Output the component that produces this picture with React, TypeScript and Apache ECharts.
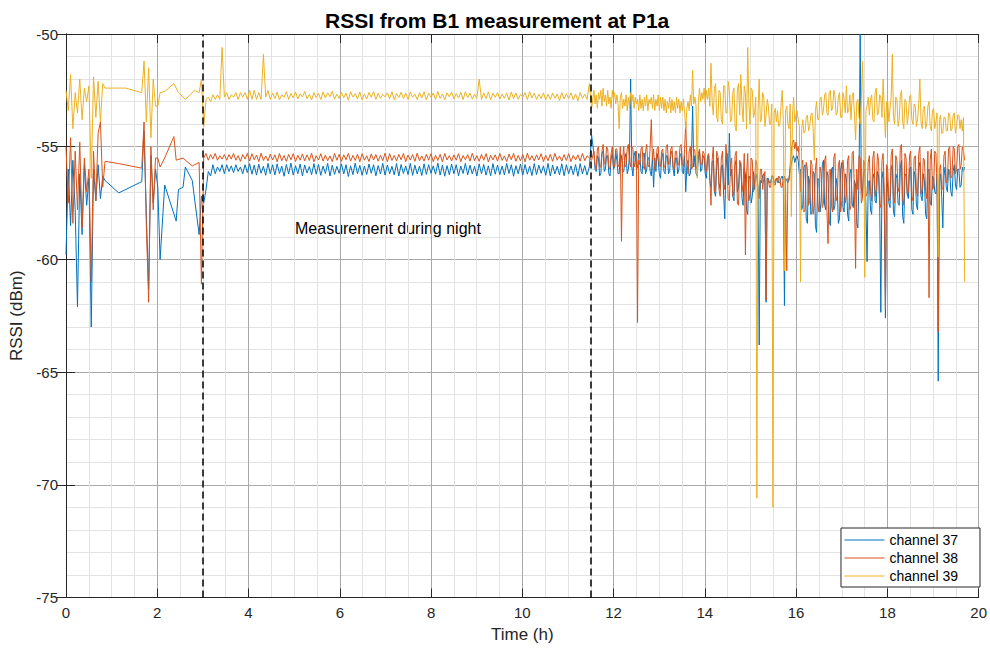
import React, { useEffect, useRef } from "react";
import * as echarts from "echarts";

// Logger sample periods (h): slower logging until 11.5 h, faster afterwards
const EARLY_PERIOD_H = 0.0503;
const LATE_PERIOD_H = 0.02515;
const LATE_START_H = 11.569;

const SERIES_NAMES = ["channel 37", "channel 38", "channel 39"];
const SERIES_COLORS = ["#0072BD", "#D95319", "#EDB120"];
const NIGHT_BOUNDS = [3, 11.5];
const NIGHT_LABEL = "Measurement during night";
const X_TICKS = [0, 2, 4, 6, 8, 10, 12, 14, 16, 18, 20];
const Y_TICKS = [-75, -70, -65, -60, -55, -50];

// ---------- channel 37 (dBm), null = no sample ----------
const CH37_EARLY: (number | null)[] = [
  -59.8, -56.0, -58.5, -55.6, -57.8, -62.1, -56.2, -58.9, -55.8, -57.6,
  -56.4, -63.0, -56.0, -57.4, -55.8, -57.3, -56.3, -56.5, null, null,
  null, null, null, -57.05, null, null, null, null, null, null,
  null, null, null, -56.55, -54.3, -58.0, -61.3, -55.4, -57.5, -56.0,
  -56.8, -60.0, null, -56.7, null, null, null, null, -58.3, -56.9,
  null, -56.8, -55.9, null, null, -56.5, null, null, -58.9, -57.2,
  -57.5, -56.9, -56.1, -56.3, -55.8, -56.2, -55.9, -56.1, -55.8, -56.2,
  -55.8, -56.1, -55.85, -56.15, -55.8, -56.1, -55.9, -56.2, -55.8, -56.15,
  -55.75, -56.22, -55.82, -56.26, -55.78, -56.18, -55.87, -56.27, -55.74, -56.2,
  -55.8, -56.25, -55.76, -56.19, -55.86, -56.31, -55.79, -56.21, -55.73, -56.26,
  -55.84, -56.2, -55.77, -56.29, -55.81, -56.17, -55.88, -56.24, -55.75, -56.22,
  -55.79, -56.27, -55.86, -56.19, -55.74, -56.3, -55.82, -56.23, -55.87, -56.18,
  -55.76, -56.21, -55.8, -56.32, -55.85, -56.24, -55.73, -56.2, -55.83, -56.27,
  -55.86, -56.23, -55.77, -56.18, -55.8, -56.29, -55.84, -56.21, -55.74, -56.26,
  -55.81, -56.2, -55.87, -56.25, -55.75, -56.3, -55.79, -56.19, -55.85, -56.24,
  -55.74, -56.27, -55.82, -56.21, -55.86, -56.28, -55.76, -56.23, -55.8, -56.18,
  -55.85, -56.22, -55.73, -56.26, -55.81, -56.31, -55.84, -56.24, -55.77, -56.2,
  -55.8, -56.29, -55.86, -56.19, -55.74, -56.25, -55.82, -56.21, -55.87, -56.3,
  -55.76, -56.2, -55.79, -56.26, -55.85, -56.29, -55.75, -56.22, -55.81, -56.24,
  -55.86, -56.25, -55.74, -56.19, -55.8, -56.31, -55.84, -56.2, -55.77, -56.26,
  -55.79, -56.22, -55.86, -56.28, -55.75, -56.24, -55.82, -56.18, -55.85, -56.27,
  -55.74, -56.3, -55.81, -56.21, -55.87, -56.25, -55.76, -56.29, -55.8, -56.2,
  -55.85, -56.24, -55.79, -56.31, -55.75, -56.2, -55.84, -56.26, -55.9, -54.5,
];
const CH37_LATE: (number | null)[] = [
  -55.3, -56.0, -56.1, -55.4, -55.5, -56.3, -56.2, -55.3, -55.2, -56.1, -56.0, -55.4, -55.4, -56.2, -56.3, -55.5, -55.3, -56.0, -55.9, -55.2,
  -55.6, -56.2, -56.2, -55.3, -55.4, -56.1, -56.1, -55.5, -55.3, -56.2, -56.0, -55.4, -52.0, -55.9, -56.3, -55.4, -55.2, -56.0, -55.9, -55.3,
  -55.4, -56.1, -56.2, -55.3, -55.3, -56.2, -56.0, -55.5, -55.5, -56.1, -56.3, -55.4, -56.8, -55.5, -56.1, -55.3, -55.6, -56.2, -56.4, -55.5,
  -55.3, -56.1, -56.2, -55.4, -55.4, -56.2, -56.1, -55.3, -55.2, -56.0, -56.3, -55.5, -55.5, -56.2, -56.0, -55.4, -55.3, -56.1, -56.2, -55.4,
  -57.0, -55.8, -55.6, -56.3, -56.2, -55.5, -53.2, -55.9, -55.4, -56.2, -56.3, -55.5, -55.2, -56.1, -56.0, -55.4, -55.5, -56.2, -56.4, -55.6,
  -55.4, -56.5, -56.8, -55.7, -55.6, -57.0, -57.2, -55.8, -55.5, -56.6, -56.9, -55.9, -55.8, -57.1, -58.2, -56.0, -55.3, -56.7, -54.4, -56.3,
  -56.0, -57.2, -57.4, -55.8, -55.6, -57.0, -56.8, -55.9, -55.7, -57.3, -57.6, -56.0, -56.2, -57.8, -58.0, -56.3, -56.4, -57.5, -57.2, -56.1,
  -56.9, -56.2, -56.4, -56.8, -63.8, -56.5, -56.6, -56.3, -56.2, -56.6, -61.9, -56.4, -56.4, -56.6, -56.6, -56.3, -56.3, -56.6, -56.5, -56.4,
  -56.4, -56.6, -56.6, -56.4, -56.3, -56.5, -62.05, -56.4, -56.5, -56.6, -56.4, -56.0, -55.8, -55.5, -55.4, -55.7, -55.5, -55.4, -55.6, -56.2,
  -56.0, -57.8, -57.6, -55.9, -55.8, -58.2, -58.4, -56.3, -56.6, -58.0, -57.9, -56.1, -56.2, -58.5, -58.8, -56.4, -56.5, -57.9, -57.4, -55.8,
  -55.6, -57.6, -57.8, -56.1, -56.3, -58.3, -58.5, -56.0, -55.9, -57.8, -57.6, -56.4, -56.8, -58.4, -58.2, -56.0, -55.7, -57.7, -57.9, -56.2,
  -56.4, -58.0, -58.3, -56.2, -56.0, -57.5, -57.7, -56.5, -56.7, -58.4, -58.6, -56.3, -50.0, -56.8, -57.2, -56.1, -56.0, -57.6, -60.1, -56.6,
  -56.5, -57.8, -58.0, -56.4, -56.2, -57.4, -57.5, -56.1, -56.3, -57.6, -62.35, -56.4, -56.1, -57.7, -62.6, -56.3, -56.8, -57.5, -57.7, -56.0,
  -55.8, -57.9, -58.1, -56.2, -56.4, -57.5, -57.6, -55.9, -55.6, -58.1, -58.4, -56.3, -56.2, -57.1, -57.3, -56.0, -55.9, -57.8, -58.0, -56.1,
  -56.3, -57.6, -57.8, -55.9, -55.7, -57.2, -57.4, -56.2, -56.5, -58.0, -58.2, -56.1, -56.0, -57.5, -57.6, -56.3, -56.4, -57.0, -57.1, -56.2,
  -65.4, -56.4, -56.2, -57.2, -58.6, -56.3, -55.9, -56.8, -57.0, -56.0, -56.1, -57.0, -57.2, -56.1, -55.8, -56.7, -56.9, -56.0, -56.0, -56.8,
  -56.7, -55.9, -56.1, -55.9,
];

// ---------- channel 38 (dBm) ----------
const CH38_EARLY: (number | null)[] = [
  -55.0, -57.5, -54.6, -58.4, -55.2, -57.8, -54.8, -58.6, -55.5, -57.0,
  -56.0, -61.0, -55.2, -57.4, -54.4, -53.9, -56.8, -55.65, null, null,
  null, null, null, -55.75, null, null, null, null, null, null,
  null, null, null, -55.95, -53.9, -58.5, -61.9, -55.0, -57.8, -55.5,
  -55.5, -55.9, null, -55.5, null, null, null, -54.55, -55.6, null,
  null, -55.5, -55.6, null, null, -55.85, null, null, -55.7, -61.1,
  -55.5, -55.3, -55.6, -55.35, -55.55, -55.3, -55.6, -55.4, -55.55, -55.35,
  -55.6, -55.35, -55.55, -55.3, -55.6, -55.4, -55.65, -55.35, -55.55, -55.3,
  -55.64, -55.31, -55.58, -55.37, -55.66, -55.29, -55.61, -55.41, -55.63, -55.33,
  -55.59, -55.36, -55.67, -55.3, -55.62, -55.39, -55.65, -55.34, -55.58, -55.31,
  -55.66, -55.38, -55.6, -55.32, -55.63, -55.36, -55.61, -55.29, -55.67, -55.4,
  -55.59, -55.31, -55.64, -55.37, -55.62, -55.41, -55.66, -55.3, -55.6, -55.34,
  -55.65, -55.36, -55.58, -55.3, -55.64, -55.39, -55.61, -55.33, -55.67, -55.31,
  -55.6, -55.4, -55.66, -55.32, -55.59, -55.35, -55.64, -55.38, -55.62, -55.29,
  -55.67, -55.31, -55.61, -55.39, -55.63, -55.34, -55.58, -55.3, -55.66, -55.37,
  -55.59, -55.35, -55.65, -55.29, -55.62, -55.41, -55.64, -55.33, -55.6, -55.31,
  -55.66, -55.38, -55.61, -55.34, -55.67, -55.3, -55.59, -55.4, -55.63, -55.36,
  -55.6, -55.31, -55.66, -55.39, -55.58, -55.35, -55.64, -55.29, -55.62, -55.4,
  -55.65, -55.34, -55.6, -55.31, -55.67, -55.38, -55.59, -55.36, -55.64, -55.3,
  -55.61, -55.41, -55.66, -55.33, -55.58, -55.3, -55.65, -55.39, -55.62, -55.35,
  -55.67, -55.29, -55.6, -55.4, -55.63, -55.36, -55.59, -55.31, -55.66, -55.38,
  -55.62, -55.34, -55.65, -55.3, -55.6, -55.41, -55.64, -55.35, -55.61, -55.31,
  -55.66, -55.39, -55.59, -55.36, -55.64, -55.3, -55.62, -55.4, -55.5, -55.6,
];
const CH38_LATE: (number | null)[] = [
  -55.2, -55.8, -56.0, -55.1, -55.0, -55.9, -55.9, -55.2, -54.9, -55.7, -55.8, -55.0, -55.1, -55.9, -56.0, -55.3, -55.0, -55.8, -55.9, -55.1,
  -55.1, -55.8, -55.9, -55.0, -59.2, -55.6, -55.0, -55.9, -55.8, -55.1, -54.9, -55.7, -55.9, -55.0, -55.1, -55.9, -55.7, -55.2, -62.8, -55.6,
  -55.8, -55.1, -55.0, -55.9, -56.0, -55.2, -54.9, -55.8, -55.9, -55.0, -53.8, -55.6, -55.1, -56.0, -55.8, -55.1, -55.0, -55.8, -55.9, -55.2,
  -55.1, -55.9, -55.9, -55.0, -54.9, -55.8, -55.7, -55.1, -55.0, -55.9, -56.0, -55.2, -55.2, -55.8, -55.8, -55.0, -54.9, -55.7, -55.9, -55.1,
  -53.9, -55.7, -56.2, -55.2, -55.0, -56.0, -55.9, -55.1, -55.2, -55.9, -56.0, -55.3, -55.1, -55.8, -55.8, -55.2, -55.3, -56.0, -56.1, -55.4,
  -55.3, -56.4, -57.6, -55.6, -55.0, -57.0, -56.8, -55.2, -55.4, -56.9, -57.2, -55.5, -55.2, -56.6, -56.9, -54.9, -55.6, -57.3, -57.4, -55.8,
  -55.5, -57.2, -57.0, -55.4, -55.2, -57.5, -57.6, -55.6, -55.8, -57.0, -56.6, -55.3, -59.8, -56.2, -55.3, -57.4, -57.1, -55.5, -55.6, -57.0,
  -56.6, -55.6, -55.8, -57.2, -57.3, -56.0, -56.0, -56.9, -56.4, -56.1, -61.8, -56.4, -56.5, -56.8, -56.8, -56.3, -56.3, -56.7, -56.7, -56.4,
  -56.6, -56.3, -56.4, -56.8, -56.8, -56.4, -56.3, -56.7, -60.5, -56.4, -56.5, -55.8, -55.2, -54.8, -54.7, -55.1, -54.8, -55.2, -55.0, -55.6,
  -57.0, -55.8, -55.6, -57.9, -57.8, -55.7, -56.0, -57.6, -57.4, -55.6, -55.8, -58.0, -57.6, -56.0, -55.5, -57.5, -57.9, -55.9, -56.2, -57.7,
  -57.5, -55.6, -55.4, -57.8, -59.3, -56.1, -56.0, -57.6, -57.9, -55.5, -55.3, -57.4, -57.2, -55.8, -55.6, -57.9, -57.4, -55.6, -56.2, -57.5,
  -57.2, -55.6, -55.4, -57.8, -57.6, -55.3, -55.2, -57.1, -60.4, -56.0, -56.9, -55.4, -55.5, -57.5, -57.3, -55.6, -55.8, -57.2, -57.1, -55.7,
  -55.4, -57.0, -57.4, -55.5, -55.2, -57.2, -56.9, -55.3, -55.6, -57.5, -57.7, -55.6, -55.3, -57.0, -62.2, -55.8, -56.0, -57.4, -57.3, -55.4,
  -55.1, -57.2, -57.5, -55.4, -55.6, -57.0, -56.8, -55.0, -54.9, -57.3, -57.6, -55.3, -55.5, -57.1, -57.0, -55.4, -55.2, -57.2, -57.4, -55.5,
  -55.4, -57.0, -57.2, -55.3, -55.0, -57.1, -56.9, -55.5, -55.6, -57.0, -57.3, -55.2, -61.7, -55.6, -55.1, -56.9, -56.8, -55.2, -55.3, -56.7,
  -63.2, -56.0, -55.8, -56.8, -56.9, -55.4, -55.2, -56.6, -56.5, -55.1, -55.0, -56.4, -56.3, -55.0, -55.1, -56.2, -56.0, -55.0, -54.9, -56.0,
  -55.8, -55.0, -55.2, -55.6,
];

// ---------- channel 39 (dBm) ----------
const CH39_EARLY: (number | null)[] = [
  -52.5, -53.4, -51.8, -54.2, -52.6, -53.5, -52.0, -53.8, -52.4, -53.0,
  -52.3, -56.4, -51.9, -53.7, -52.1, -53.9, -52.2, -52.4, null, null,
  null, null, null, -52.4, null, null, -52.4, null, null, null,
  null, null, null, -52.6, -51.2, -53.9, -51.5, -54.6, -52.0, -53.2,
  -53.2, -52.6, null, -52.55, null, null, null, -52.2, null, -52.6,
  null, null, -52.9, null, null, null, -52.5, null, -52.6, -52.0,
  -54.1, -52.9, -52.8, -53.0, -52.7, -52.9, -52.7, -52.9, -50.6, -52.8,
  -52.6, -52.9, -52.7, -52.8, -52.6, -52.9, -52.6, -52.8, -52.6, -52.9,
  -52.5, -52.9, -52.5, -52.9, -52.6, -52.9, -50.9, -52.8, -52.5, -52.9,
  -52.62, -52.86, -52.58, -52.92, -52.7, -52.81, -52.56, -52.9, -52.64, -52.84,
  -52.57, -52.88, -52.66, -52.79, -52.55, -52.87, -52.68, -52.93, -52.6, -52.82,
  -52.63, -52.91, -52.57, -52.84, -52.61, -52.78, -52.54, -52.89, -52.67, -52.86,
  -52.58, -52.83, -52.62, -52.94, -52.56, -52.8, -52.65, -52.88, -52.57, -52.92,
  -52.66, -52.89, -52.59, -52.81, -52.55, -52.9, -52.63, -52.85, -52.68, -52.79,
  -52.61, -52.87, -52.56, -52.92, -52.64, -52.82, -52.58, -52.86, -52.62, -52.9,
  -52.57, -52.8, -52.67, -52.91, -52.6, -52.84, -52.56, -52.93, -52.63, -52.81,
  -52.62, -52.9, -52.55, -52.86, -52.66, -52.92, -52.61, -52.79, -52.57, -52.88,
  -52.64, -52.84, -52.59, -52.91, -52.56, -52.82, -52.62, -52.89, -52.67, -52.85,
  -52.0, -52.9, -52.61, -52.86, -52.57, -52.92, -52.63, -52.81, -52.6, -52.88,
  -52.66, -52.85, -52.61, -52.93, -52.57, -52.87, -52.62, -52.9, -52.68, -52.8,
  -52.6, -52.91, -52.56, -52.84, -52.63, -52.9, -52.67, -52.86, -52.61, -52.92,
  -52.67, -52.9, -52.62, -52.85, -52.66, -52.95, -52.6, -52.88, -52.65, -52.86,
  -52.61, -52.92, -52.66, -52.96, -52.6, -52.85, -52.67, -52.9, -52.2, -53.3,
];
const CH39_LATE: (number | null)[] = [
  -52.5, -53.1, -52.7, -53.3, -52.6, -52.9, -52.5, -53.2, -52.4, -53.0, -52.7, -53.2, -52.5, -53.1, -52.8, -53.3, -52.5, -52.9, -52.6, -53.1,
  -52.7, -53.1, -54.2, -52.8, -52.6, -53.3, -52.9, -53.2, -52.7, -53.4, -52.8, -53.3, -52.6, -53.0, -52.7, -53.3, -52.8, -53.1, -52.9, -53.4,
  -52.7, -53.3, -52.9, -53.4, -52.8, -53.2, -52.7, -53.4, -52.9, -53.1, -52.8, -53.3, -52.7, -53.4, -52.9, -53.2, -52.7, -53.4, -52.8, -53.3,
  -52.8, -53.4, -52.9, -53.5, -53.0, -53.3, -52.8, -53.5, -52.9, -53.4, -53.0, -53.5, -52.8, -53.3, -52.9, -53.5, -53.0, -53.4, -52.9, -53.5,
  -54.2, -53.3, -53.0, -53.4, -52.7, -53.2, -51.6, -53.1, -52.8, -53.2, -56.4, -53.0, -52.4, -53.0, -52.6, -52.9, -52.4, -53.1, -52.5, -52.9,
  -52.4, -53.2, -51.3, -53.0, -53.6, -52.4, -52.2, -53.7, -53.9, -52.5, -52.6, -53.8, -54.0, -52.3, -52.3, -53.5, -53.5, -52.1, -52.5, -53.9,
  -53.8, -52.6, -52.4, -54.1, -54.3, -52.5, -52.2, -53.6, -51.8, -53.2, -53.9, -52.3, -52.6, -54.2, -50.6, -53.1, -54.0, -52.4, -52.5, -53.7,
  -53.5, -52.8, -70.6, -53.4, -52.0, -53.9, -53.8, -52.6, -52.8, -54.1, -53.6, -52.9, -53.2, -54.0, -54.0, -53.1, -71.0, -53.5, -53.3, -53.9,
  -53.4, -54.1, -54.0, -53.2, -52.5, -53.8, -60.5, -53.4, -53.2, -54.0, -54.2, -53.1, -58.1, -53.6, -52.8, -53.9, -53.6, -53.4, -53.8, -54.1,
  -61.0, -54.2, -53.8, -54.4, -54.3, -53.7, -53.6, -54.3, -54.1, -53.6, -53.5, -54.2, -55.6, -53.4, -53.0, -53.8, -53.8, -52.9, -52.8, -53.6,
  -53.4, -52.7, -52.6, -53.5, -53.6, -52.6, -52.5, -53.4, -53.3, -52.5, -52.7, -53.6, -53.5, -52.8, -52.6, -53.7, -53.7, -52.6, -52.9, -53.5,
  -52.3, -53.5, -53.4, -52.7, -53.8, -52.8, -52.6, -53.6, -54.7, -53.0, -52.9, -53.7, -54.0, -52.9, -51.2, -53.5, -60.8, -53.4, -53.2, -52.8,
  -53.6, -52.9, -52.7, -53.8, -53.9, -52.6, -52.4, -53.6, -53.5, -52.7, -52.8, -53.7, -52.0, -53.4, -54.6, -53.0, -53.0, -53.9, -53.3, -52.8,
  -50.9, -53.7, -54.0, -52.8, -52.9, -54.1, -53.8, -52.7, -52.5, -53.9, -54.2, -52.9, -53.0, -54.0, -53.6, -52.8, -52.7, -53.8, -54.0, -53.1,
  -53.2, -54.1, -53.8, -53.1, -52.0, -53.9, -54.2, -53.3, -53.2, -54.2, -54.0, -53.2, -53.0, -54.1, -54.3, -53.4, -53.3, -54.2, -53.9, -53.5,
  -59.9, -53.8, -53.6, -54.4, -54.4, -53.7, -53.7, -54.3, -54.3, -53.5, -53.6, -54.3, -54.2, -53.6, -53.5, -54.4, -54.1, -53.6, -53.6, -54.2,
  -53.8, -54.3, -53.7, -61.0,
];

const SERIES_SEGMENTS = [
  [CH37_EARLY, CH37_LATE],
  [CH38_EARLY, CH38_LATE],
  [CH39_EARLY, CH39_LATE],
];

const FONT = '"Liberation Sans", Arial, Helvetica, sans-serif';
const INK = "#262626";

function toPoints(values: (number | null)[], start: number, period: number) {
  return values.map((v, i) => [Number((start + i * period).toFixed(4)), v]);
}

export default function App() {
  const ref = useRef<HTMLDivElement>(null);

  useEffect(() => {
    if (!ref.current) return;
    const chart = echarts.init(ref.current, undefined, { renderer: "svg" });

    const xMin = X_TICKS[0];
    const xMax = X_TICKS[X_TICKS.length - 1];
    const xStep = X_TICKS[1] - X_TICKS[0];
    const yMin = Y_TICKS[0];
    const yMax = Y_TICKS[Y_TICKS.length - 1];
    const yStep = Y_TICKS[1] - Y_TICKS[0];

    const baseAxis = {
      axisLine: { show: true, lineStyle: { color: INK, width: 1 } },
      axisTick: { show: true, inside: true, length: 9, lineStyle: { color: INK, width: 1 } },
    };

    const series: any[] = SERIES_NAMES.map((name, k) => {
      const [early, late] = SERIES_SEGMENTS[k];
      const data = toPoints(early, 0, EARLY_PERIOD_H).concat(
        toPoints(late, LATE_START_H, LATE_PERIOD_H)
      );
      return {
        name,
        type: "line",
        data,
        symbol: "none",
        showSymbol: false,
        connectNulls: true,
        color: SERIES_COLORS[k],
        lineStyle: { width: 1, color: SERIES_COLORS[k] },
        emphasis: { disabled: true },
        z: 2 + k,
      };
    });
    series[2].markLine = {
      silent: true,
      symbol: ["none", "none"],
      label: { show: false },
      lineStyle: { color: "#000", type: [7, 4], width: 1.5 },
      emphasis: { disabled: true },
      data: NIGHT_BOUNDS.map((x) => ({ xAxis: x })),
      z: 10,
    };

    chart.setOption({
      animation: false,
      backgroundColor: "#fff",
      title: {
        text: "RSSI from B1 measurement at P1a",
        left: 320,
        top: 5,
        textStyle: { fontFamily: FONT, fontSize: 21, fontWeight: "bold", color: "#000" },
      },
      grid: { left: 66, right: 9, top: 34, bottom: 53.5, containLabel: false },
      legend: {
        data: SERIES_NAMES,
        orient: "vertical",
        right: 10,
        bottom: 64,
        padding: [5, 22, 4, 3],
        itemGap: 4,
        itemWidth: 40,
        itemHeight: 14,
        itemStyle: { opacity: 0 },
        lineStyle: { width: 1 },
        backgroundColor: "#fff",
        borderColor: INK,
        borderWidth: 1,
        borderRadius: 0,
        textStyle: { fontFamily: FONT, fontSize: 14, color: "#000" },
        selectedMode: false,
      },
      xAxis: [
        {
          type: "value",
          min: xMin,
          max: xMax,
          interval: xStep,
          position: "bottom",
          ...baseAxis,
          axisLabel: { color: INK, fontSize: 15, fontFamily: FONT, margin: 7 },
          splitLine: { show: true, lineStyle: { color: "#a9a9a9", width: 1 } },
          minorTick: { show: false, splitNumber: 4 },
          minorSplitLine: { show: true, lineStyle: { color: "#e3e3e3", width: 1 } },
          name: "Time (h)",
          nameLocation: "middle",
          nameGap: 28,
          nameTextStyle: { color: INK, fontSize: 17, fontFamily: FONT },
        },
        {
          type: "value",
          min: xMin,
          max: xMax,
          interval: xStep,
          position: "top",
          ...baseAxis,
          axisLabel: { show: false },
          splitLine: { show: false },
        },
      ],
      yAxis: [
        {
          type: "value",
          min: yMin,
          max: yMax,
          interval: yStep,
          position: "left",
          ...baseAxis,
          axisLabel: { color: INK, fontSize: 15, fontFamily: FONT, margin: 8 },
          splitLine: { show: true, lineStyle: { color: "#a9a9a9", width: 1 } },
          minorTick: { show: false, splitNumber: 5 },
          minorSplitLine: { show: true, lineStyle: { color: "#e3e3e3", width: 1 } },
          name: "RSSI (dBm)",
          nameLocation: "middle",
          nameGap: 36,
          nameTextStyle: { color: INK, fontSize: 17, fontFamily: FONT },
        },
        {
          type: "value",
          min: yMin,
          max: yMax,
          interval: yStep,
          position: "right",
          ...baseAxis,
          axisLabel: { show: false },
          splitLine: { show: false },
        },
      ],
      graphic: [
        {
          type: "group",
          z: 50,
          children: [
            {
              type: "rect",
              shape: { x: 288, y: 214, width: 227, height: 28 },
              style: { fill: "#fff" },
            },
            {
              type: "text",
              x: 295,
              y: 228,
              style: {
                text: NIGHT_LABEL,
                fill: "#000",
                font: `16px ${FONT}`,
                verticalAlign: "middle",
              },
            },
          ],
        },
      ],
      series,
    });

    return () => chart.dispose();
  }, []);

  return <div ref={ref} style={{ width: 990, height: 651, position: "absolute", left: 0, top: 0 }} />;
}
